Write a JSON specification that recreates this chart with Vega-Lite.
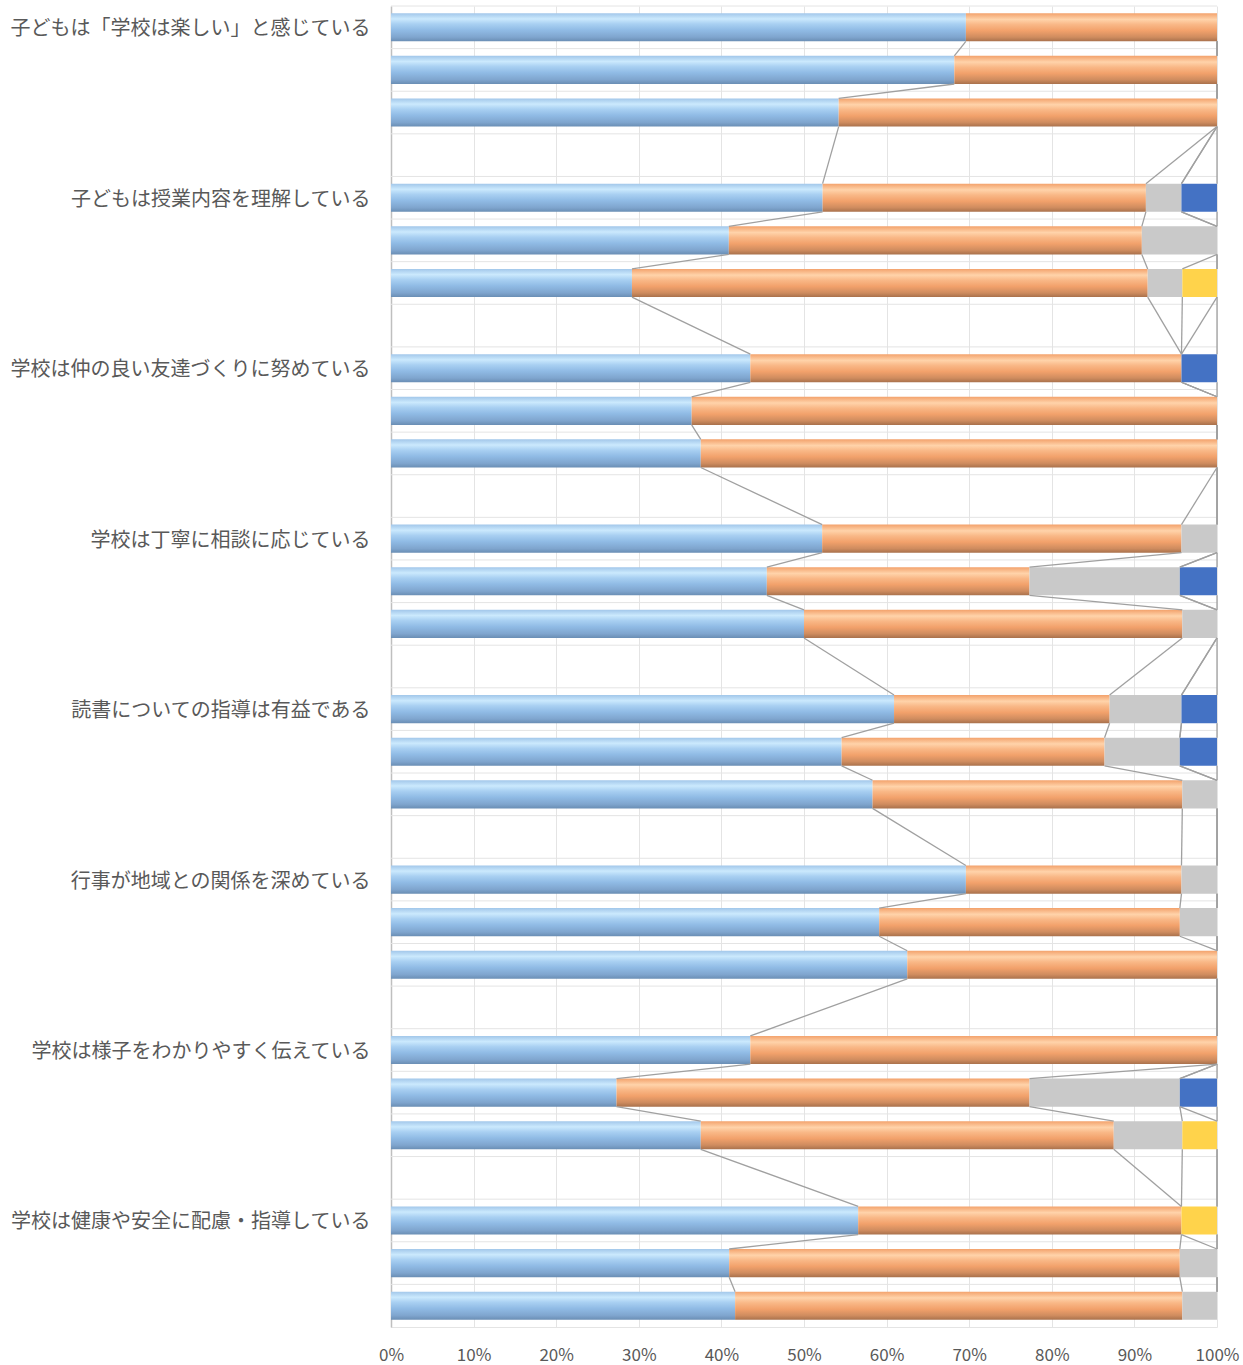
{
  "$schema": "https://vega.github.io/schema/vega-lite/v6.json",
  "width": 826,
  "height": 1321,
  "autosize": "none",
  "padding": {"left": 391, "top": 6, "right": 26, "bottom": 38},
  "background": "white",
  "datasets": {
    "rows": [
      {"row": 0}, {"row": 1}, {"row": 2}, {"row": 3}, {"row": 4}, {"row": 5}, {"row": 6}, {"row": 7},
      {"row": 8}, {"row": 9}, {"row": 10}, {"row": 11}, {"row": 12}, {"row": 13}, {"row": 14}, {"row": 15},
      {"row": 16}, {"row": 17}, {"row": 18}, {"row": 19}, {"row": 20}, {"row": 21}, {"row": 22}, {"row": 23},
      {"row": 24}, {"row": 25}, {"row": 26}, {"row": 27}, {"row": 28}, {"row": 29}, {"row": 30}
    ],
    "bars": [
      {"row": 0, "s1": 69.6, "s2": 30.4, "s3": 0, "s4": 0, "s5": 0},
      {"row": 1, "s1": 68.2, "s2": 31.8, "s3": 0, "s4": 0, "s5": 0},
      {"row": 2, "s1": 54.2, "s2": 45.8, "s3": 0, "s4": 0, "s5": 0},
      {"row": 4, "s1": 52.2, "s2": 39.1, "s3": 4.3, "s4": 0, "s5": 4.3},
      {"row": 5, "s1": 40.9, "s2": 50.0, "s3": 9.1, "s4": 0, "s5": 0},
      {"row": 6, "s1": 29.2, "s2": 62.5, "s3": 4.2, "s4": 4.2, "s5": 0},
      {"row": 8, "s1": 43.5, "s2": 52.2, "s3": 0, "s4": 0, "s5": 4.3},
      {"row": 9, "s1": 36.4, "s2": 63.6, "s3": 0, "s4": 0, "s5": 0},
      {"row": 10, "s1": 37.5, "s2": 62.5, "s3": 0, "s4": 0, "s5": 0},
      {"row": 12, "s1": 52.2, "s2": 43.5, "s3": 4.3, "s4": 0, "s5": 0},
      {"row": 13, "s1": 45.5, "s2": 31.8, "s3": 18.2, "s4": 0, "s5": 4.5},
      {"row": 14, "s1": 50.0, "s2": 45.8, "s3": 4.2, "s4": 0, "s5": 0},
      {"row": 16, "s1": 60.9, "s2": 26.1, "s3": 8.7, "s4": 0, "s5": 4.3},
      {"row": 17, "s1": 54.5, "s2": 31.8, "s3": 9.1, "s4": 0, "s5": 4.5},
      {"row": 18, "s1": 58.3, "s2": 37.5, "s3": 4.2, "s4": 0, "s5": 0},
      {"row": 20, "s1": 69.6, "s2": 26.1, "s3": 4.3, "s4": 0, "s5": 0},
      {"row": 21, "s1": 59.1, "s2": 36.4, "s3": 4.5, "s4": 0, "s5": 0},
      {"row": 22, "s1": 62.5, "s2": 37.5, "s3": 0, "s4": 0, "s5": 0},
      {"row": 24, "s1": 43.5, "s2": 56.5, "s3": 0, "s4": 0, "s5": 0},
      {"row": 25, "s1": 27.3, "s2": 50.0, "s3": 18.2, "s4": 0, "s5": 4.5},
      {"row": 26, "s1": 37.5, "s2": 50.0, "s3": 8.3, "s4": 4.2, "s5": 0},
      {"row": 28, "s1": 56.5, "s2": 39.1, "s3": 0, "s4": 4.3, "s5": 0},
      {"row": 29, "s1": 40.9, "s2": 54.5, "s3": 4.5, "s4": 0, "s5": 0},
      {"row": 30, "s1": 41.7, "s2": 54.2, "s3": 4.2, "s4": 0, "s5": 0}
    ]
  },
  "layer": [
    {
      "data": {"name": "rows"},
      "mark": {"type": "rule", "color": "#E4E4E4", "strokeWidth": 1},
      "encoding": {
        "y": {
          "field": "row", "type": "ordinal", "bandPosition": 0,
          "scale": {"type": "band", "paddingInner": 0, "paddingOuter": 0},
          "axis": {
            "title": null,
            "labelOffset": 2,
            "labelExpr": "datum.value % 4 == 0 ? ['子どもは「学校は楽しい」と感じている','子どもは授業内容を理解している','学校は仲の良い友達づくりに努めている','学校は丁寧に相談に応じている','読書についての指導は有益である','行事が地域との関係を深めている','学校は様子をわかりやすく伝えている','学校は健康や安全に配慮・指導している'][datum.value / 4] : ''"
          }
        }
      }
    },
    {
      "data": {"name": "bars"},
      "transform": [
        {"fold": ["s1", "s2", "s3", "s4", "s5"], "as": ["series", "value"]},
        {"stack": "value", "groupby": ["row"], "sort": [{"field": "series", "order": "ascending"}], "offset": "normalize", "as": ["x0", "x1"]},
        {"filter": "datum.series == 's1' && datum.value > 0"}
      ],
      "mark": {
        "type": "bar",
        "height": {"band": 0.66},
        "color": {
          "gradient": "linear", "x1": 0, "y1": 0, "x2": 0, "y2": 1,
          "stops": [
            {"offset": 0, "color": "#A2C7EA"},
            {"offset": 0.2, "color": "#CBE9FD"},
            {"offset": 0.38, "color": "#A9D0F2"},
            {"offset": 0.6, "color": "#90BBE5"},
            {"offset": 0.85, "color": "#7FA5CE"},
            {"offset": 1, "color": "#6A8EB4"}
          ]
        }
      },
      "encoding": {
        "y": {"field": "row", "type": "ordinal", "scale": {"type": "band"}},
        "x": {"field": "x0", "type": "quantitative", "scale": {"domain": [0, 1]}, "axis": {"title": null, "format": ".0%", "values": [0, 0.1, 0.2, 0.3, 0.4, 0.5, 0.6, 0.7, 0.8, 0.9, 1]}},
        "x2": {"field": "x1"}
      }
    },
    {
      "data": {"name": "bars"},
      "transform": [
        {"fold": ["s1", "s2", "s3", "s4", "s5"], "as": ["series", "value"]},
        {"stack": "value", "groupby": ["row"], "sort": [{"field": "series", "order": "ascending"}], "offset": "normalize", "as": ["x0", "x1"]},
        {"filter": "datum.series == 's2' && datum.value > 0"}
      ],
      "mark": {
        "type": "bar",
        "height": {"band": 0.66},
        "color": {
          "gradient": "linear", "x1": 0, "y1": 0, "x2": 0, "y2": 1,
          "stops": [
            {"offset": 0, "color": "#F3A26C"},
            {"offset": 0.22, "color": "#FFD3AA"},
            {"offset": 0.4, "color": "#F9B887"},
            {"offset": 0.62, "color": "#F2A16B"},
            {"offset": 0.85, "color": "#CF8C5F"},
            {"offset": 1, "color": "#A9714C"}
          ]
        }
      },
      "encoding": {
        "y": {"field": "row", "type": "ordinal", "scale": {"type": "band"}},
        "x": {"field": "x0", "type": "quantitative"},
        "x2": {"field": "x1"}
      }
    },
    {
      "data": {"name": "bars"},
      "transform": [
        {"fold": ["s1", "s2", "s3", "s4", "s5"], "as": ["series", "value"]},
        {"stack": "value", "groupby": ["row"], "sort": [{"field": "series", "order": "ascending"}], "offset": "normalize", "as": ["x0", "x1"]},
        {"filter": "(datum.series == 's3' || datum.series == 's4' || datum.series == 's5') && datum.value > 0"}
      ],
      "mark": {"type": "bar", "height": {"band": 0.66}},
      "encoding": {
        "y": {"field": "row", "type": "ordinal", "scale": {"type": "band"}},
        "x": {"field": "x0", "type": "quantitative"},
        "x2": {"field": "x1"},
        "color": {
          "field": "series", "type": "nominal", "legend": null,
          "scale": {"domain": ["s3", "s4", "s5"], "range": ["#C9C9C9", "#FFD34B", "#4472C4"]}
        }
      }
    },
    {
      "data": {"name": "bars"},
      "transform": [
        {"fold": ["s1", "s2", "s3", "s4", "s5"], "as": ["series", "value"]},
        {"stack": "value", "groupby": ["row"], "sort": [{"field": "series", "order": "ascending"}], "offset": "normalize", "as": ["x0", "x1"]},
        {"window": [{"op": "lead", "field": "x1", "as": "nx1"}, {"op": "lead", "field": "row", "as": "nrow"}], "groupby": ["series"], "sort": [{"field": "row", "order": "ascending"}]},
        {"filter": "datum.nrow != null"}
      ],
      "mark": {"type": "rule", "color": "#A0A0A0", "strokeWidth": 1.3},
      "encoding": {
        "y": {"field": "row", "type": "ordinal", "scale": {"type": "band"}, "bandPosition": 0.83},
        "y2": {"field": "nrow", "bandPosition": 0.17},
        "x": {"field": "x1", "type": "quantitative"},
        "x2": {"field": "nx1"}
      }
    }
  ],
  "config": {
    "view": {"stroke": null},
    "font": "Noto Sans CJK JP",
    "axisX": {
      "grid": true, "gridColor": "#E4E4E4", "gridWidth": 1,
      "domain": true, "domainColor": "#E4E4E4",
      "ticks": false, "labelFontSize": 17, "labelColor": "#595959",
      "labelPadding": 20, "labelFlush": false, "labelFont": "Noto Sans CJK JP"
    },
    "axisY": {
      "grid": false, "ticks": false,
      "domain": true, "domainColor": "#BFBFBF", "domainWidth": 1.5,
      "labelFontSize": 20, "labelColor": "#595959", "labelPadding": 21,
      "labelLimit": 600, "labelFont": "Noto Sans CJK JP"
    }
  }
}
